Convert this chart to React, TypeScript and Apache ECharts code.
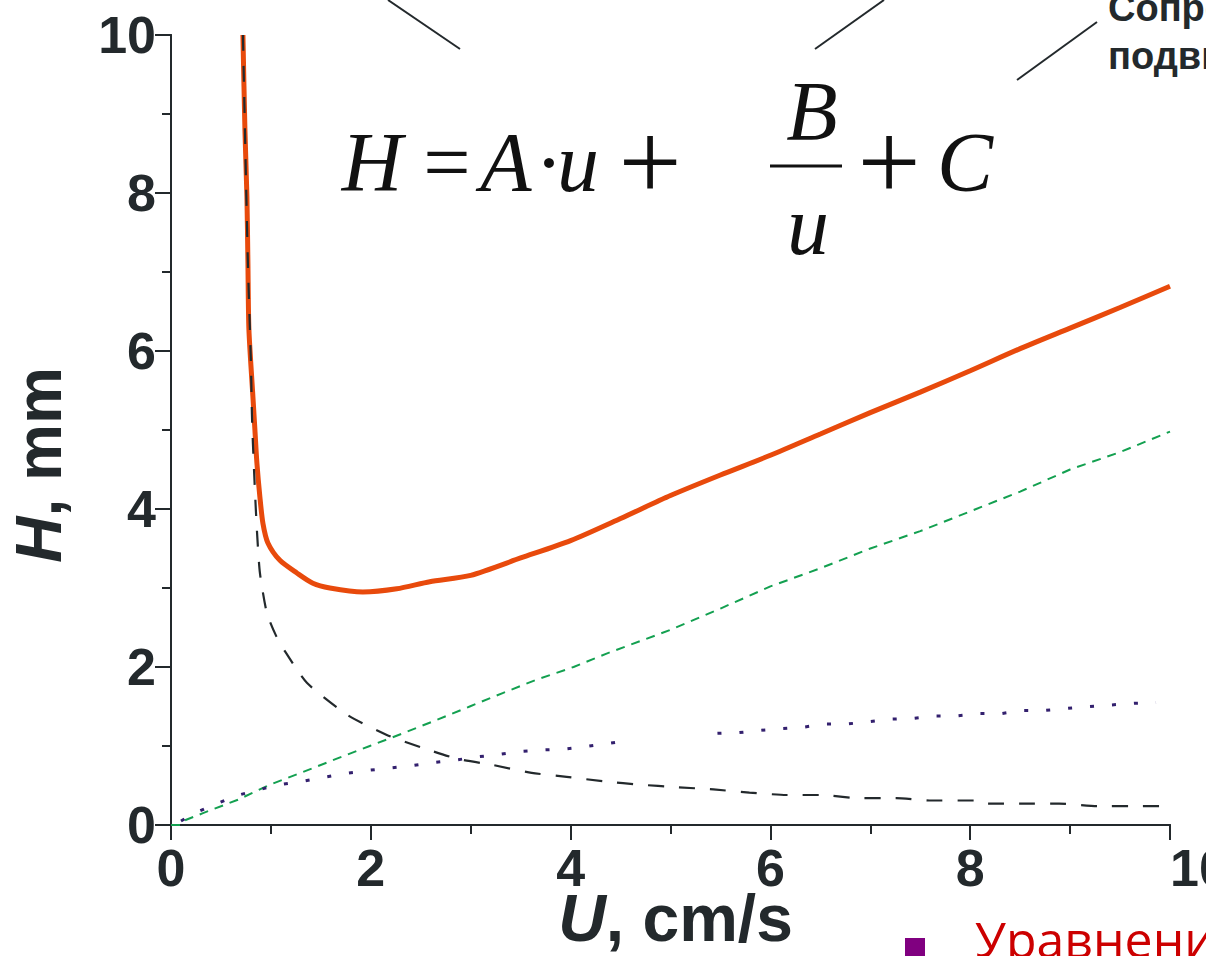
import React, { useEffect, useRef } from "react";
import * as echarts from "echarts";

// ---- data ----
const xTicks = [0, 2, 4, 6, 8, 10];
const yTicks = [0, 2, 4, 6, 8, 10];

// total H (orange)
const orangeU = [0.72, 0.74, 0.76, 0.77, 0.78, 0.82, 0.84, 0.86, 0.89, 0.92, 0.97, 1.09, 1.26, 1.42, 1.59, 1.92, 2.26, 2.59, 3.0, 3.5, 4.0, 4.5, 5.0, 5.5, 6.0, 6.5, 7.0, 7.5, 8.0, 8.5, 9.0, 9.5, 10.0];
const orangeH = [10, 8.8, 7.95, 7.11, 6.27, 5.42, 5.0, 4.58, 4.15, 3.82, 3.57, 3.35, 3.19, 3.06, 3.0, 2.95, 2.99, 3.08, 3.16, 3.38, 3.6, 3.88, 4.17, 4.43, 4.68, 4.95, 5.22, 5.48, 5.75, 6.03, 6.29, 6.55, 6.82];

// B/u term (black dashed)
const blackU = [0.72, 0.75, 0.77, 0.8, 0.81, 0.82, 0.84, 0.86, 0.89, 0.96, 1.05, 1.14, 1.36, 1.77, 2.16, 2.51, 2.86, 3.22, 3.61, 3.96, 4.35, 4.7, 5.05, 5.43, 5.79, 6.16, 6.52, 6.88, 7.26, 7.61, 8.05, 8.18, 8.53, 8.89, 9.27, 9.63, 10.0];
const blackH = [10, 8.2, 7.1, 5.85, 5.2, 4.83, 4.24, 3.73, 3.19, 2.68, 2.4, 2.2, 1.8, 1.39, 1.14, 0.98, 0.84, 0.76, 0.66, 0.61, 0.55, 0.51, 0.48, 0.45, 0.41, 0.38, 0.38, 0.34, 0.34, 0.31, 0.31, 0.27, 0.27, 0.27, 0.24, 0.24, 0.24];

// A·u term (green dashed)
const greenU = [0, 0.1, 0.14, 0.32, 0.67, 0.99, 1.32, 1.66, 1.99, 2.32, 2.66, 2.99, 3.32, 3.66, 4.03, 4.36, 5.0, 5.5, 6.0, 6.5, 7.0, 7.5, 8.0, 8.5, 9.0, 9.5, 10.0];
const greenH = [0, 0, 0.06, 0.15, 0.32, 0.51, 0.67, 0.84, 1.0, 1.16, 1.33, 1.5, 1.67, 1.84, 2.0, 2.17, 2.47, 2.74, 3.02, 3.25, 3.5, 3.72, 3.97, 4.22, 4.5, 4.72, 4.98];

// C term (purple dotted), two pieces
const purpleU1 = [0.1, 0.21, 0.42, 0.65, 0.86, 1.08, 1.31, 1.52, 1.74, 1.96, 2.18, 2.4, 2.62, 2.84, 3.05, 3.27, 3.49, 3.71, 3.93, 4.14, 4.36, 4.58];
const purpleH1 = [0.05, 0.135, 0.25, 0.37, 0.44, 0.51, 0.55, 0.6, 0.65, 0.69, 0.72, 0.75, 0.79, 0.82, 0.86, 0.89, 0.93, 0.95, 0.96, 0.99, 1.03, 1.07];
const purpleU2 = [5.47, 5.69, 5.91, 6.13, 6.34, 6.56, 6.78, 7.0, 7.21, 7.43, 7.65, 7.86, 8.09, 8.31, 8.52, 8.74, 9.19, 9.64, 9.86];
const purpleH2 = [1.16, 1.17, 1.2, 1.22, 1.24, 1.28, 1.28, 1.31, 1.34, 1.35, 1.38, 1.38, 1.41, 1.41, 1.45, 1.45, 1.5, 1.54, 1.55];

const zip = (u: number[], h: number[]) => u.map((v, i) => [v, h[i]]);

const INK = "#23292c";
const SANS = "Liberation Sans, Arial, sans-serif";
const SERIF = "Liberation Serif, Times New Roman, serif";

export default function App() {
  const ref = useRef<HTMLDivElement>(null);
  useEffect(() => {
    if (!ref.current) return;
    const chart = echarts.init(ref.current, undefined, { renderer: "svg" });
    const axisLine = { show: true, lineStyle: { color: INK, width: 2 } };
    const fTxt = (text: string, x: number, y: number, italic: boolean, size = 84) => ({
      type: "text",
      x,
      y,
      style: {
        text,
        fontSize: size,
        fontFamily: SERIF,
        fontStyle: italic ? "italic" : "normal",
        fill: "#111",
        verticalAlign: "middle",
        align: "center",
      },
    });
    const option: any = {
      animation: false,
      backgroundColor: "#ffffff",
      grid: { left: 171, right: 36, top: 35, bottom: 131, containLabel: false, outerBoundsMode: "none" },
      xAxis: [
        {
          type: "value",
          min: 0,
          max: 10,
          interval: 2,
          name: "{i|U}, cm/s",
          nameLocation: "middle",
          nameGap: 68,
          nameMoveOverlap: false,
          nameTextStyle: {
            fontSize: 66,
            lineHeight: 50,
            fontWeight: "bold",
            fontFamily: SANS,
            color: INK,
            padding: [0, 0, 0, 10],
            rich: { i: { fontSize: 66, lineHeight: 50, fontWeight: "bold", fontStyle: "italic", fontFamily: SANS, color: INK } },
          },
          axisLine,
          axisTick: { show: true, length: 15, lineStyle: { color: INK, width: 2 } },
          minorTick: { show: true, splitNumber: 2, length: 9, lineStyle: { color: INK, width: 2 } },
          splitLine: { show: false },
          axisLabel: {
            fontSize: 52,
            lineHeight: 44,
            fontWeight: "bold",
            fontFamily: SANS,
            color: INK,
            margin: 21,
            alignMaxLabel: "left",
            formatter: (v: number) => (xTicks.includes(v) ? String(v) : ""),
          },
        },
        {
          type: "value",
          position: "top",
          min: 0,
          max: 10,
          axisLine,
          axisTick: { show: false },
          axisLabel: { show: false },
          splitLine: { show: false },
        },
      ],
      yAxis: [
        {
          type: "value",
          min: 0,
          max: 10,
          interval: 2,
          name: "{i|H}, mm",
          nameLocation: "middle",
          nameGap: 100,
          nameRotate: 90,
          nameMoveOverlap: false,
          nameTextStyle: {
            fontSize: 64,
            fontWeight: "bold",
            fontFamily: SANS,
            color: INK,
            padding: [0, 70, 0, 0],
            rich: { i: { fontSize: 64, fontWeight: "bold", fontStyle: "italic", fontFamily: SANS, color: INK } },
          },
          axisLine,
          axisTick: { show: true, length: 16, lineStyle: { color: INK, width: 2 } },
          minorTick: { show: true, splitNumber: 2, length: 9, lineStyle: { color: INK, width: 2 } },
          splitLine: { show: false },
          axisLabel: {
            fontSize: 52,
            fontWeight: "bold",
            fontFamily: SANS,
            color: INK,
            margin: 15,
            formatter: (v: number) => (yTicks.includes(v) ? String(v) : ""),
          },
        },
        {
          type: "value",
          position: "right",
          min: 0,
          max: 10,
          axisLine,
          axisTick: { show: false },
          axisLabel: { show: false },
          splitLine: { show: false },
        },
      ],
      series: [
        {
          type: "line",
          data: zip(greenU, greenH),
          symbol: "none",
          lineStyle: { color: "#13a050", width: 2, type: [9, 7] },
          z: 2,
        },
        {
          type: "line",
          data: zip(purpleU1, purpleH1),
          symbol: "none",
          lineStyle: { color: "#33206e", width: 3, type: [4, 18] },
          z: 2,
        },
        {
          type: "line",
          data: zip(purpleU2, purpleH2),
          symbol: "none",
          lineStyle: { color: "#33206e", width: 3, type: [4, 18] },
          z: 2,
        },
        {
          type: "line",
          data: zip(orangeU, orangeH),
          symbol: "none",
          smooth: 0.25,
          lineStyle: { color: "#e84a0c", width: 5 },
          z: 3,
        },
        {
          type: "line",
          data: zip(blackU, blackH),
          symbol: "none",
          smooth: 0.2,
          lineStyle: { color: "#23292c", width: 2.2, type: [16, 15] },
          z: 4,
        },
      ],
      graphic: [
        { type: "line", shape: { x1: 388, y1: 0, x2: 460, y2: 49 }, style: { stroke: INK, lineWidth: 2 } },
        { type: "line", shape: { x1: 884, y1: 0, x2: 815, y2: 49 }, style: { stroke: INK, lineWidth: 2 } },
        { type: "line", shape: { x1: 1097, y1: 22, x2: 1017, y2: 80 }, style: { stroke: INK, lineWidth: 2 } },
        {
          type: "text",
          x: 1108,
          y: 27,
          style: { text: "Сопротивление", fontSize: 38, fontWeight: "bold", fontFamily: SANS, fill: INK, verticalAlign: "bottom", align: "left" },
        },
        {
          type: "text",
          x: 1108,
          y: 75,
          style: { text: "подвижной фазы", fontSize: 38, fontWeight: "bold", fontFamily: SANS, fill: INK, verticalAlign: "bottom", align: "left" },
        },
        fTxt("H", 372, 162, true),
        fTxt("=", 447, 162, false),
        fTxt("A", 506, 162, true),
        fTxt("·", 549, 162, false),
        fTxt("u", 578, 162, true),
        fTxt("+", 650, 162, false, 112),
        fTxt("B", 812, 111, true),
        { type: "line", shape: { x1: 770, y1: 166, x2: 842, y2: 166 }, style: { stroke: "#111", lineWidth: 3 } },
        fTxt("u", 808, 225, true),
        fTxt("+", 889, 162, false, 112),
        fTxt("C", 965, 162, true),
        { type: "rect", shape: { x: 905, y: 938, width: 20, height: 20 }, style: { fill: "#800080" } },
        {
          type: "text",
          x: 975,
          y: 914,
          style: { text: "Уравнение Ван-Деемтера", fontSize: 50, fontFamily: "Open Sans, Noto Sans, sans-serif", fill: "#cc0000", verticalAlign: "top", align: "left" },
        },
      ],
    };
    chart.setOption(option);
    return () => chart.dispose();
  }, []);
  return (
    <div
      ref={ref}
      style={{ position: "fixed", left: 0, top: 0, width: 1206, height: 956, background: "#fff" }}
    />
  );
}
